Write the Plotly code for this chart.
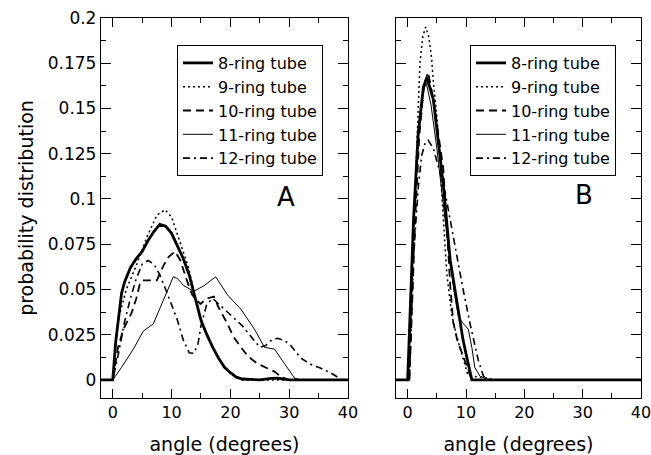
import plotly.graph_objects as go

# ---------------- data: panel A ----------------
A8_X = [-2, 0, 0.5, 1, 1.5, 2, 3, 4, 5, 6, 7, 8, 9, 10, 11, 12, 13, 14, 15, 16, 17, 18, 19, 20, 21, 22, 25, 27, 28, 29, 30, 40]
A8_Y = [0, 0, 0.021, 0.036, 0.048, 0.054, 0.062, 0.067, 0.071, 0.077, 0.082, 0.086, 0.085, 0.081, 0.074, 0.067, 0.058, 0.046, 0.033, 0.025, 0.018, 0.012, 0.007, 0.004, 0.0015, 0.0005, 0, 0.0008, 0.001, 0.0005, 0, 0]

A9_X = [-2, 0, 0.9, 2.3, 4.1, 5.8, 7.5, 8.9, 10, 11.5, 12.9, 14, 15, 16, 17, 18, 19, 20, 21, 22, 40]
A9_Y = [0, 0, 0.033, 0.05, 0.064, 0.079, 0.091, 0.094, 0.09, 0.076, 0.062, 0.046, 0.034, 0.025, 0.018, 0.012, 0.007, 0.004, 0.002, 0, 0]

A10_X = [-2, 0, 0.9, 1.8, 3.2, 4, 4.6, 5, 6, 7, 7.5, 8.6, 9.5, 10.6, 11.5, 12.6, 13.5, 14.9, 16, 17.2, 18, 19.5, 20.5, 21.8, 23, 24.6, 26, 27.5, 28.5, 29.8, 40]
A10_Y = [0, 0, 0.018, 0.028, 0.037, 0.045, 0.053, 0.055, 0.055, 0.055, 0.055, 0.063, 0.068, 0.071, 0.066, 0.055, 0.047, 0.042, 0.045, 0.046, 0.04, 0.031, 0.024, 0.018, 0.013, 0.009, 0.007, 0.0046, 0.002, 0, 0]

A11_X = [-2, 0, 1.5, 3.5, 5.2, 6.9, 8.6, 10.3, 11, 12.1, 13.8, 15.5, 17.5, 18.5, 19.5, 21.8, 24.1, 25.8, 27.5, 29.2, 30.9, 32, 40]
A11_Y = [0, 0, 0.007, 0.017, 0.027, 0.031, 0.044, 0.057, 0.056, 0.052, 0.049, 0.052, 0.057, 0.052, 0.047, 0.039, 0.028, 0.018, 0.017, 0.009, 0.001, 0, 0]

A12_X = [-2, 0, 1, 2, 3, 4, 5, 6, 7, 8, 9, 10, 11, 12, 13, 13.8, 14.5, 15, 16, 17, 18, 19, 20, 21, 22, 23, 24, 25, 26, 27, 28, 29, 30, 31, 32, 33, 34, 35, 36, 37, 38, 39, 40]
A12_Y = [0, 0, 0.015, 0.032, 0.045, 0.056, 0.064, 0.066, 0.064, 0.058, 0.05, 0.042, 0.033, 0.022, 0.015, 0.0147, 0.02, 0.03, 0.042, 0.045, 0.042, 0.039, 0.036, 0.033, 0.03, 0.026, 0.022, 0.018, 0.019, 0.022, 0.023, 0.022, 0.02, 0.016, 0.012, 0.01, 0.008, 0.007, 0.0055, 0.004, 0.002, 0, 0]

# ---------------- data: panel B ----------------
B8_X = [-2, 0, 1, 1.8, 2.7, 3.3, 4.4, 5.5, 6.1, 7.3, 8.1, 9.5, 10.1, 11, 40]
B8_Y = [0, 0, 0.088, 0.136, 0.162, 0.167, 0.155, 0.126, 0.108, 0.066, 0.05, 0.022, 0.013, 0, 0]

B9_X = [-2, 0.2, 1, 1.5, 2.1, 2.6, 3.1, 3.6, 4.1, 4.4, 5, 5.5, 5.9, 6.7, 7.5, 8.4, 9.5, 10.3, 11, 13, 15, 40]
B9_Y = [0, 0, 0.08, 0.125, 0.175, 0.19, 0.195, 0.19, 0.178, 0.165, 0.146, 0.125, 0.1, 0.059, 0.037, 0.024, 0.011, 0.003, 0.002, 0.0015, 0, 0]

B10_X = [-2, 0.3, 1.3, 2, 2.8, 3.5, 4.4, 5.2, 6.1, 6.8, 7.3, 7.8, 8.5, 9.3, 10.4, 11, 40]
B10_Y = [0, 0, 0.09, 0.135, 0.163, 0.17, 0.155, 0.137, 0.117, 0.08, 0.052, 0.032, 0.022, 0.015, 0.006, 0, 0]

B11_X = [-2, 0, 1, 1.8, 2.7, 3.2, 4, 5, 6, 7, 8, 8.7, 9.3, 10.4, 11, 11.5, 12.4, 14, 40]
B11_Y = [0, 0, 0.085, 0.133, 0.16, 0.164, 0.152, 0.128, 0.1, 0.072, 0.048, 0.035, 0.032, 0.028, 0.018, 0.007, 0.002, 0, 0]

B12_X = [-2, 0.3, 1, 1.8, 2.4, 3, 3.5, 4.4, 5.5, 6.4, 7.2, 8.1, 9.5, 10.7, 12.1, 13, 14, 40]
B12_Y = [0, 0, 0.068, 0.106, 0.124, 0.131, 0.1325, 0.128, 0.115, 0.104, 0.09, 0.074, 0.05, 0.031, 0.011, 0.002, 0, 0]

SERIES_NAMES = ["8-ring tube", "9-ring tube", "10-ring tube", "11-ring tube", "12-ring tube"]
X_TICKS = [0, 10, 20, 30, 40]
Y_TICKS = [0, 0.025, 0.05, 0.075, 0.1, 0.125, 0.15, 0.175, 0.2]
Y_TICK_LABELS = ["0", "0.025", "0.05", "0.075", "0.1", "0.125", "0.15", "0.175", "0.2"]
PANEL_LABELS = ["A", "B"]
X_TITLE = "angle (degrees)"
Y_TITLE = "probability distribution"

# ---------------- styles ----------------
STYLES = [
    dict(width=2.8, dash="solid"),
    dict(width=1.5, dash="2px,3px"),
    dict(width=1.8, dash="8px,5px"),
    dict(width=1.0, dash="solid"),
    dict(width=1.6, dash="7px,4px,2px,4px"),
]

W, H = 651, 455
FONT = "DejaVu Sans"

fig = go.Figure()

panelA = [(A8_X, A8_Y), (A9_X, A9_Y), (A10_X, A10_Y), (A11_X, A11_Y), (A12_X, A12_Y)]
panelB = [(B8_X, B8_Y), (B9_X, B9_Y), (B10_X, B10_Y), (B11_X, B11_Y), (B12_X, B12_Y)]

for (xs, ys), name, st in zip(panelA, SERIES_NAMES, STYLES):
    fig.add_trace(go.Scatter(x=xs, y=ys, mode="lines", name=name,
                             line=dict(color="black", width=st["width"], dash=st["dash"]),
                             xaxis="x", yaxis="y", legend="legend"))
for (xs, ys), name, st in zip(panelB, SERIES_NAMES, STYLES):
    fig.add_trace(go.Scatter(x=xs, y=ys, mode="lines", name=name,
                             line=dict(color="black", width=st["width"], dash=st["dash"]),
                             xaxis="x2", yaxis="y2", legend="legend2"))

y_dom = [1 - 398 / H, 1 - 18 / H]

common_x = dict(range=[-2, 40], tickmode="array", tickvals=X_TICKS,
                ticks="inside", ticklen=9, tickwidth=1.2, tickcolor="black",
                showline=True, linecolor="black", linewidth=1.3, mirror="ticks",
                showgrid=False, zeroline=False,
                minor=dict(tickmode="linear", tick0=0, dtick=5, ticks="inside",
                           ticklen=5, tickwidth=1.2, tickcolor="black", showgrid=False),
                tickfont=dict(family=FONT, size=16, color="black"),
                ticklabelstandoff=0, ticklabeloverflow="allow",
                title=dict(text=X_TITLE, font=dict(family=FONT, size=19, color="black"), standoff=22))

common_y = dict(range=[-0.01, 0.2], domain=y_dom, tickmode="array", tickvals=Y_TICKS,
                ticktext=Y_TICK_LABELS,
                ticks="inside", ticklen=10, tickwidth=1.2, tickcolor="black",
                showline=True, linecolor="black", linewidth=1.3, mirror="ticks",
                showgrid=False, zeroline=False,
                minor=dict(tickmode="linear", tick0=0, dtick=0.0125, ticks="inside",
                           ticklen=5, tickwidth=1.2, tickcolor="black", showgrid=False),
                tickfont=dict(family=FONT, size=17, color="black"))

legend_common = dict(xanchor="left", yanchor="top", bordercolor="black", borderwidth=1,
                     bgcolor="white", font=dict(family=FONT, size=16, color="black"),
                     tracegroupgap=0, itemwidth=30)

fig.update_layout(
    width=W, height=H,
    margin=dict(l=0, r=0, t=0, b=0, autoexpand=False),
    paper_bgcolor="white", plot_bgcolor="white",
    font=dict(family=FONT, color="black"),
    xaxis=dict(domain=[101 / W, 348 / W], anchor="y", **common_x),
    yaxis=dict(anchor="x", showticklabels=True,
               title=dict(text=Y_TITLE, font=dict(family=FONT, size=19, color="black"), standoff=9),
               **common_y),
    xaxis2=dict(domain=[396 / W, 641 / W], anchor="y2", **common_x),
    yaxis2=dict(anchor="x2", showticklabels=False, **common_y),
    legend=dict(x=177 / W, y=1 - 45 / H, **legend_common),
    legend2=dict(x=470 / W, y=1 - 45 / H, **legend_common),
    annotations=[
        dict(text=PANEL_LABELS[0], x=29.4, y=0.101, xref="x", yref="y", showarrow=False,
             font=dict(family=FONT, size=26, color="black")),
        dict(text=PANEL_LABELS[1], x=30.2, y=0.102, xref="x2", yref="y2", showarrow=False,
             font=dict(family=FONT, size=26, color="black")),
    ],
)

fig.write_html("out.html", config={"displayModeBar": False},
               post_script="document.body.style.margin='0';document.body.style.overflow='hidden';")
